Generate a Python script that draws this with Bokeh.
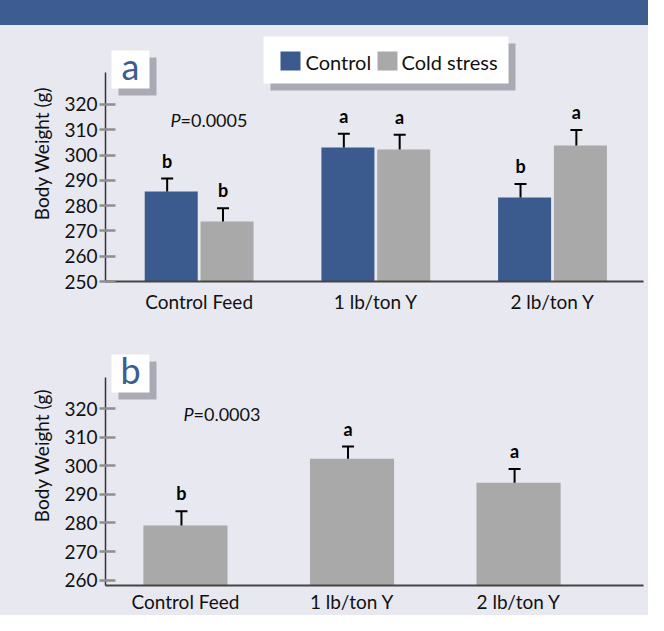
import numpy as np
from bokeh.plotting import figure
from bokeh.models import (Range1d, FixedTicker, ColumnDataSource, Whisker, TeeHead,
                          BoxAnnotation, Label, Div)
from bokeh.layouts import column
from bokeh.core.properties import value
from bokeh.embed import file_html
from bokeh.resources import INLINE

# ---------------- data ----------------
categories = ["Control Feed", "1 lb/ton Y", "2 lb/ton Y"]
series_names = ["Control", "Cold stress"]

# panel a: body weight (g), control vs cold stress
a_control_mean = [285.6, 303.0, 283.2]
a_control_se = [5.1, 5.4, 5.3]
a_control_letters = ["b", "a", "b"]
a_cold_mean = [273.7, 302.2, 303.8]
a_cold_se = [5.3, 5.8, 6.1]
a_cold_letters = ["b", "a", "a"]
a_p_value = "=0.0005"
a_yticks = [250, 260, 270, 280, 290, 300, 310, 320]

# panel b: body weight (g)
b_mean = [279.1, 302.5, 294.1]
b_se = [5.0, 4.3, 4.8]
b_letters = ["b", "a", "a"]
b_p_value = "=0.0003"
b_yticks = [260, 270, 280, 290, 300, 310, 320]

# ---------------- style ----------------
FONT = "Lato"
BG = "#e8e8f0"
BANNER = "#3d5c90"
BLUE = "#3b5b8f"
GREY = "#a9a9a9"
SHADOW = "#aaaab4"
TXT = "#111111"
W = 648


def make_fig(height, bottom, x_range, y_range, y_bounds, yticks, xstandoff):
    p = figure(width=W, height=height, x_range=x_range, y_range=y_range,
               output_backend="svg", toolbar_location=None,
               min_border_left=105, min_border_right=5,
               min_border_top=0, min_border_bottom=bottom)
    p.background_fill_color = BG
    p.border_fill_color = BG
    p.outline_line_color = None
    p.xgrid.visible = False
    p.ygrid.visible = False

    xa = p.xaxis[0]
    xa.ticker = FixedTicker(ticks=list(range(len(categories))))
    xa.major_label_overrides = {i: c for i, c in enumerate(categories)}
    xa.major_tick_line_color = None
    xa.minor_tick_line_color = None
    xa.axis_line_color = "#444444"
    xa.axis_line_width = 2
    xa.major_label_text_font = FONT
    xa.major_label_text_font_size = "19px"
    xa.major_label_text_color = TXT
    xa.major_label_standoff = xstandoff

    ya = p.yaxis[0]
    ya.ticker = FixedTicker(ticks=yticks)
    ya.bounds = y_bounds
    ya.minor_tick_line_color = None
    ya.major_tick_in = 10
    ya.major_tick_out = 6
    ya.major_tick_line_color = "#8f8f8f"
    ya.major_tick_line_width = 2.5
    ya.axis_line_color = "#333333"
    ya.axis_line_width = 1.5
    ya.major_label_text_font = FONT
    ya.major_label_text_font_size = "19px"
    ya.major_label_text_color = TXT
    ya.major_label_standoff = 2
    ya.axis_label = "Body Weight (g)"
    ya.axis_label_text_font = FONT
    ya.axis_label_text_font_size = "19px"
    ya.axis_label_text_font_style = "normal"
    ya.axis_label_text_color = TXT
    ya.axis_label_standoff = 8
    return p


def box(p, l, r, b, t, color):
    p.add_layout(BoxAnnotation(left=l, right=r, bottom=b, top=t,
                               left_units="screen", right_units="screen",
                               bottom_units="screen", top_units="screen",
                               fill_color=color, fill_alpha=1.0,
                               line_color=None))


def label(p, x, y, text, size, color=TXT, style="normal", align="left"):
    p.add_layout(Label(x=x, y=y, x_units="screen", y_units="screen", text=text,
                       text_font=FONT, text_font_style=style, text_font_size=size,
                       text_baseline="alphabetic", text_align=align,
                       text_color=color))


def panel_tag(p, letter):
    box(p, 13, 51, 186, 224, SHADOW)
    box(p, 6, 44, 193, 231, "white")
    label(p, 25, 216, letter, "36px", color=BANNER, align="center")


def p_text(p, x, y, txt):
    label(p, x, y, "P", "18px", style="italic")
    label(p, x + 10, y, txt, "18px")


def errbars(p, xs, mean, se, letters):
    src = ColumnDataSource(dict(base=list(xs), lower=list(mean),
                                upper=[m + s for m, s in zip(mean, se)],
                                letter=list(letters)))
    w = Whisker(base="base", lower="lower", upper="upper", source=src,
                dimension="height", line_color="black", line_width=2,
                lower_head=None,
                upper_head=TeeHead(size=12, line_color="black", line_width=2))
    w.level = "annotation"
    p.add_layout(w)
    p.text(x="base", y="upper", text="letter", source=src, y_offset=-18,
           text_align="center", text_baseline="alphabetic",
           text_font=value(FONT), text_font_style="bold", text_font_size="18px",
           text_color="black")


xs = np.arange(len(categories))

# ---------------- banner ----------------
banner = Div(text="", width=W, height=25,
             styles={"background-color": BANNER, "margin": "0", "padding": "0"})

# ---------------- panel a ----------------
p1 = make_fig(300, 44, Range1d(-0.53, 2.515), Range1d(250, 351.2),
              (250, 332.65), a_yticks, 2)
dodge = 0.158
shift_a = 0.023
p1.vbar(x=xs - dodge, top=a_control_mean, bottom=0, width=0.30,
        fill_color=BLUE, line_color=None)
p1.vbar(x=xs + dodge, top=a_cold_mean, bottom=0, width=0.30,
        fill_color=GREY, line_color=None)
errbars(p1, xs - dodge - shift_a, a_control_mean, a_control_se, a_control_letters)
errbars(p1, xs + dodge - shift_a, a_cold_mean, a_cold_se, a_cold_letters)

panel_tag(p1, "a")
p_text(p1, 65, 162, a_p_value)

# legend box with drop shadow
box(p1, 165, 410, 191, 238, SHADOW)
box(p1, 158, 403, 198, 245, "white")
box(p1, 175, 195, 211, 230, BLUE)
label(p1, 200, 220, series_names[0], "20px")
box(p1, 272, 292, 211, 230, GREY)
label(p1, 296, 220, series_names[1], "20px")

# ---------------- panel b ----------------
p2 = make_fig(290, 30, Range1d(-0.48, 2.75), Range1d(258.1, 349.2),
              (258.1, 331.0), b_yticks, -2)
shift_b = 0.024
p2.vbar(x=xs, top=b_mean, bottom=0, width=0.505, fill_color=GREY, line_color=None)
errbars(p2, xs - shift_b, b_mean, b_se, b_letters)
panel_tag(p2, "b")
p_text(p2, 78, 172, b_p_value)

layout = column(banner, p1, p2, spacing=0, styles={"background-color": BG})
open("out.html", "w").write(file_html(layout, INLINE))
